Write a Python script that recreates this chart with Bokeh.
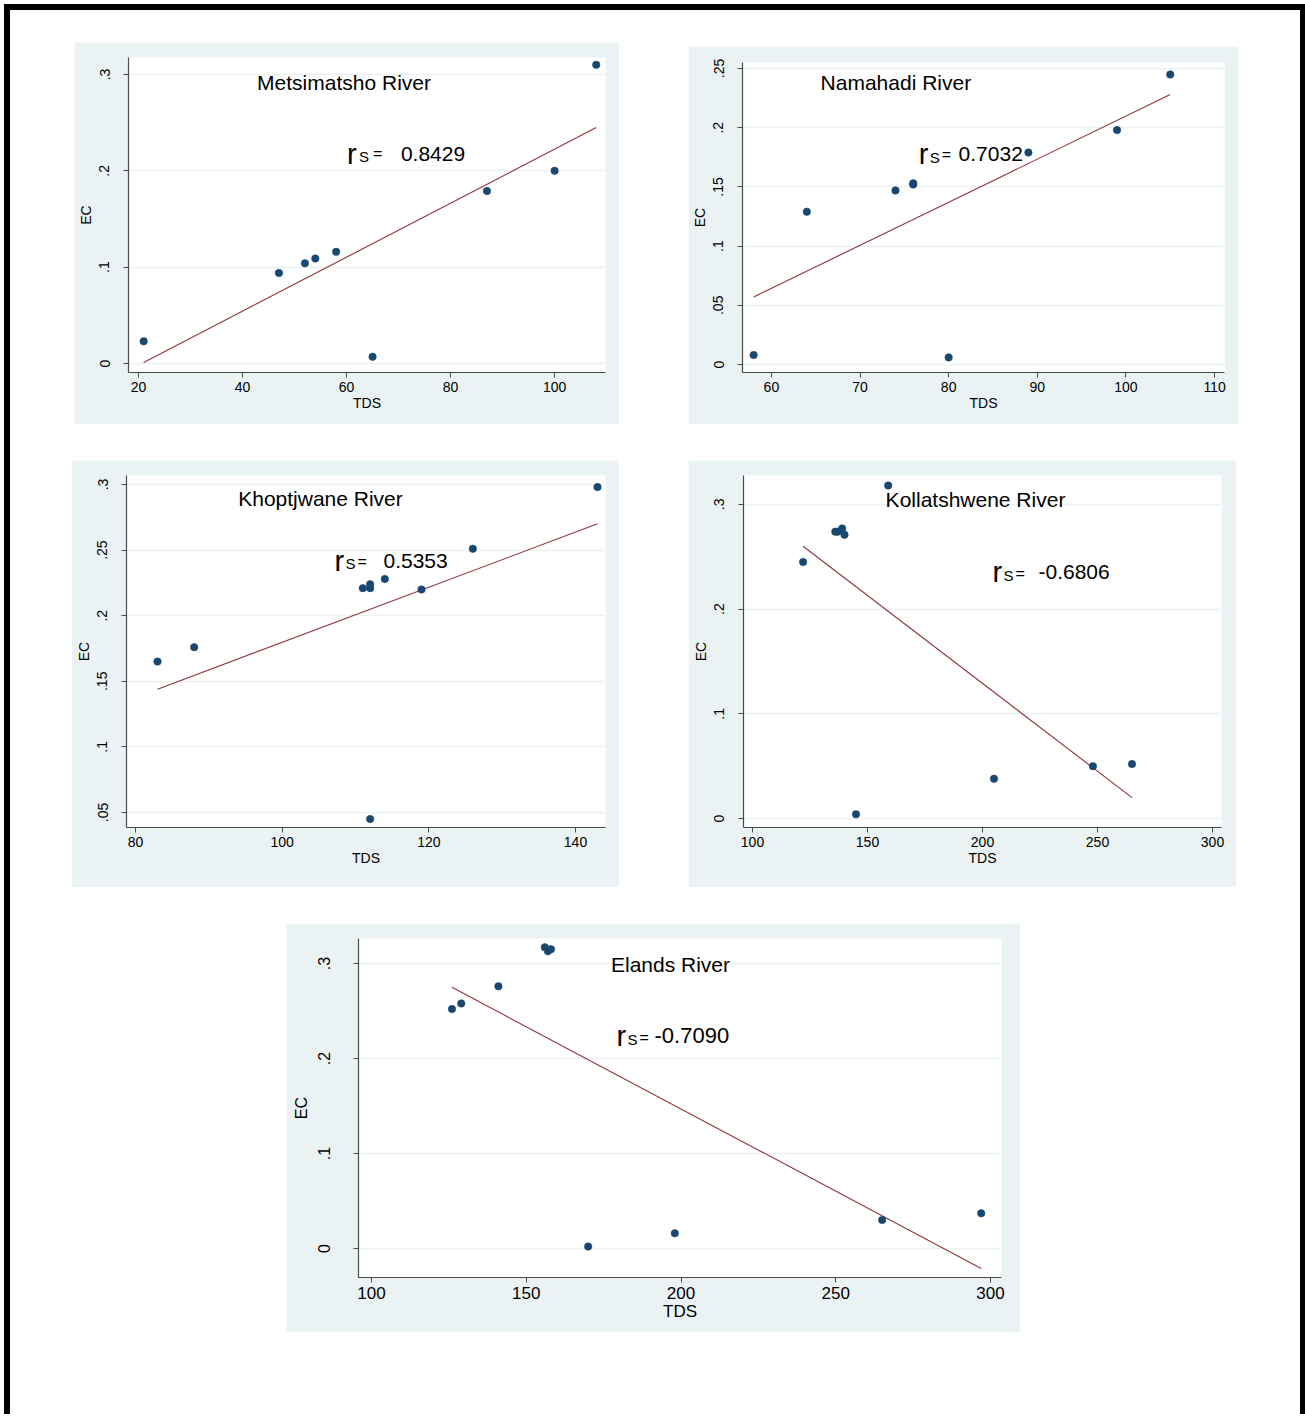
from bokeh.plotting import figure
from bokeh.models import Range1d, FixedTicker, CustomJSTickFormatter, Label, Spacer
from bokeh.layouts import row, column
from bokeh.embed import file_html
from bokeh.resources import INLINE

FONT = "Liberation Sans"
BG = "#EAF2F3"
NAVY = "#1a476f"
MAROON = "#90353b"
AXC = "#4a4a4a"

# ---------------- data ----------------
met_tds = [21, 47, 52, 54, 58, 65, 87, 100, 108]
met_ec = [0.023, 0.094, 0.104, 0.109, 0.116, 0.007, 0.179, 0.200, 0.310]
met_fit_tds = [21, 108]
met_fit_ec = [0.001, 0.245]
met_xticks = [20, 40, 60, 80, 100]
met_yticks = [0, 0.1, 0.2, 0.3]

nam_tds = [58, 64, 74, 76, 76, 80, 89, 99, 105]
nam_ec = [0.008, 0.129, 0.147, 0.152, 0.153, 0.006, 0.179, 0.198, 0.245]
nam_fit_tds = [58, 105]
nam_fit_ec = [0.057, 0.228]
nam_xticks = [60, 70, 80, 90, 100, 110]
nam_yticks = [0, 0.05, 0.1, 0.15, 0.2, 0.25]

kho_tds = [83, 88, 111, 112, 112, 112, 114, 119, 126, 143]
kho_ec = [0.165, 0.176, 0.221, 0.221, 0.224, 0.045, 0.228, 0.220, 0.251, 0.298]
kho_fit_tds = [83, 143]
kho_fit_ec = [0.144, 0.270]
kho_xticks = [80, 100, 120, 140]
kho_yticks = [0.05, 0.1, 0.15, 0.2, 0.25, 0.3]

kol_tds = [122, 136, 137, 139, 140, 145, 159, 205, 248, 265]
kol_ec = [0.245, 0.274, 0.274, 0.277, 0.271, 0.004, 0.318, 0.038, 0.050, 0.052]
kol_fit_tds = [122, 265]
kol_fit_ec = [0.260, 0.020]
kol_xticks = [100, 150, 200, 250, 300]
kol_yticks = [0, 0.1, 0.2, 0.3]

ela_tds = [126, 129, 141, 156, 157, 158, 170, 198, 265, 297]
ela_ec = [0.252, 0.258, 0.276, 0.317, 0.313, 0.315, 0.002, 0.016, 0.030, 0.037]
ela_fit_tds = [126, 297]
ela_fit_ec = [0.275, -0.021]
ela_xticks = [100, 150, 200, 250, 300]
ela_yticks = [0, 0.1, 0.2, 0.3]

titles = ["Metsimatsho River", "Namahadi River", "Khoptjwane River",
          "Kollatshwene River", "Elands River"]
rs_values = ["0.8429", "0.7032", "0.5353", "-0.6806", "-0.7090"]
x_title = "TDS"
y_title = "EC"

LABEL_SHIFT = -8  # px correction of annotation baselines


def make_panel(tds, ec, fit_x, fit_y, xticks, yticks, title, rs, lay):
    cx, cy = lay["cal"]

    def dx(px):
        a, pa, b, pb = cx
        return a + (px - pa) * (b - a) / (pb - pa)

    def dy(py):
        a, pa, b, pb = cy
        return a + (py - pa) * (b - a) / (pb - pa)

    L, R, T, B = lay["frame"]
    p = figure(width=lay["w"], height=lay["h"],
               x_range=Range1d(dx(L), dx(R)), y_range=Range1d(dy(B), dy(T)),
               output_backend="svg", toolbar_location=None,
               min_border_left=lay["mb"][0], min_border_right=lay["mb"][1],
               min_border_top=lay["mb"][2], min_border_bottom=lay["mb"][3])
    p.border_fill_color = BG
    p.background_fill_color = "white"
    p.outline_line_color = None
    p.xgrid.visible = False
    p.ygrid.grid_line_color = BG
    p.ygrid.grid_line_width = 1.5

    p.xaxis.ticker = FixedTicker(ticks=xticks)
    p.yaxis.ticker = FixedTicker(ticks=yticks)
    p.yaxis.formatter = CustomJSTickFormatter(code="""
        let s = (Math.round(tick*1000)/1000).toString();
        return s.replace(/^0\\./, '.').replace(/^-0\\./, '-.');
    """)
    p.xaxis.axis_label = x_title
    p.yaxis.axis_label = y_title
    for ax in (p.xaxis[0], p.yaxis[0]):
        ax.axis_line_color = AXC
        ax.axis_line_width = 1.2
        ax.major_tick_line_color = AXC
        ax.major_tick_in = 0
        ax.major_tick_out = 5
        ax.minor_tick_line_color = None
        ax.major_label_text_font = FONT
        ax.major_label_text_color = "black"
        ax.axis_label_text_font = FONT
        ax.axis_label_text_font_style = "normal"
        ax.axis_label_text_color = "black"
    p.xaxis.major_label_text_font_size = lay["xtick_fs"]
    p.yaxis.major_label_text_font_size = lay["ytick_fs"]
    p.xaxis.axis_label_text_font_size = lay["xlab_fs"]
    p.yaxis.axis_label_text_font_size = lay["ylab_fs"]
    p.xaxis.major_label_standoff = 4
    p.xaxis.axis_label_standoff = 0
    p.yaxis.major_label_orientation = "vertical"
    p.yaxis.major_label_standoff = lay["ystand"]
    p.yaxis.axis_label_standoff = lay["ylabstand"]

    p.line(fit_x, fit_y, line_color=MAROON, line_width=1.1)
    p.scatter(tds, ec, size=7.5, fill_color=NAVY, line_color=NAVY, line_width=0.5)

    tx, tb = lay["title_pos"]
    p.add_layout(Label(x=dx(tx), y=dy(tb + LABEL_SHIFT), text=title, text_font=FONT,
                       text_font_size=lay.get("title_fs", "21px"), text_align="center",
                       text_baseline="alphabetic", text_color="black"))
    (rx, rb), (sx, sb), (ex, eb), (vx, vb) = lay["rs_pos"]
    vfs = lay.get("val_fs", "21px")
    for x, b, t, fs in ((rx, rb, "r", "29px"), (sx, sb, "S", "15px"),
                        (ex, eb, "=", "16px"), (vx, vb, rs, vfs)):
        p.add_layout(Label(x=dx(x), y=dy(b + LABEL_SHIFT), text=t, text_font=FONT,
                           text_font_size=fs, text_align="left",
                           text_baseline="alphabetic", text_color="black"))
    return p


lay1 = dict(cal=((20, 137, 100, 554), (0, 363, 0.3, 74)), frame=(127, 605, 57, 372),
            w=545, h=382, mb=(53, 14, 15, 52), xtick_fs="14px", ytick_fs="14px",
            xlab_fs="14px", ylab_fs="14px", ystand=14, ylabstand=3,
            title_pos=(343, 90),
            rs_pos=((346, 161), (358, 164), (372, 161), (400, 161)))
lay2 = dict(cal=((60, 769, 110, 1214), (0, 364, 0.25, 68)), frame=(740, 1224, 62, 372),
            w=550, h=378, mb=(52, 14, 16, 52), xtick_fs="14px", ytick_fs="14px",
            xlab_fs="14px", ylab_fs="14px", ystand=14, ylabstand=3,
            title_pos=(894, 90),
            rs_pos=((917, 161), (928, 165), (940, 162), (957, 161)))
lay3 = dict(cal=((80, 135, 140, 575), (0.05, 812, 0.3, 484)), frame=(126, 605, 475, 827),
            w=548, h=427, mb=(55, 14, 15, 60), xtick_fs="14px", ytick_fs="14px",
            xlab_fs="14px", ylab_fs="14px", ystand=14, ylabstand=3,
            title_pos=(320, 506),
            rs_pos=((334, 568), (345, 571), (357, 569), (383, 568)))
lay4 = dict(cal=((100, 752, 300, 1212), (0, 819, 0.3, 504)), frame=(743, 1221, 475, 828),
            w=548, h=427, mb=(55, 15, 15, 59), xtick_fs="14px", ytick_fs="14px",
            xlab_fs="14px", ylab_fs="14px", ystand=14, ylabstand=3,
            title_pos=(975, 507),
            rs_pos=((992, 580), (1003, 583), (1015, 581), (1038, 580)))
lay5 = dict(cal=((100, 371, 300, 990), (0, 1248, 0.3, 963)), frame=(358, 1001, 938, 1277),
            w=734, h=409, mb=(72, 19, 15, 55), xtick_fs="17px", ytick_fs="16px",
            xlab_fs="17px", ylab_fs="16px", ystand=24, ylabstand=5,
            title_pos=(670, 972), title_fs="21px",
            rs_pos=((616, 1043), (627, 1047), (639, 1045), (654, 1043)), val_fs="22px")

p1 = make_panel(met_tds, met_ec, met_fit_tds, met_fit_ec, met_xticks, met_yticks,
                titles[0], rs_values[0], lay1)
p2 = make_panel(nam_tds, nam_ec, nam_fit_tds, nam_fit_ec, nam_xticks, nam_yticks,
                titles[1], rs_values[1], lay2)
p3 = make_panel(kho_tds, kho_ec, kho_fit_tds, kho_fit_ec, kho_xticks, kho_yticks,
                titles[2], rs_values[2], lay3)
p4 = make_panel(kol_tds, kol_ec, kol_fit_tds, kol_fit_ec, kol_xticks, kol_yticks,
                titles[3], rs_values[3], lay4)
p5 = make_panel(ela_tds, ela_ec, ela_fit_tds, ela_fit_ec, ela_xticks, ela_yticks,
                titles[4], rs_values[4], lay5)


def sp(w, h, color=None):
    s = Spacer(width=w, height=h)
    if color:
        s.styles = {"background-color": color}
    return s


# the page template has no body margin: root placed at (4, 4),
# black frame 6px on left/top, 5px on right; inner white area starts at (10, 10)
B_L, B_T, B_R = 6, 6, 5
INNER_W = 1290
INNER_H = 1404
inner = column(
    sp(INNER_W, 32),
    row(sp(64, 382), p1, sp(69, 382), column(sp(550, 4), p2)),
    sp(INNER_W, 36),
    row(sp(61, 427), p3, sp(69, 427), p4),
    sp(INNER_W, 36),
    row(sp(276, 409), p5),
    sp(INNER_W, 82),
)
root = column(
    sp(B_L + INNER_W + B_R, B_T, "black"),
    row(sp(B_L, INNER_H, "black"), inner, sp(B_R, INNER_H, "black")),
)
root.styles = {"margin-left": "4px", "margin-top": "4px"}

open("out.html", "w").write(file_html(root, INLINE))
